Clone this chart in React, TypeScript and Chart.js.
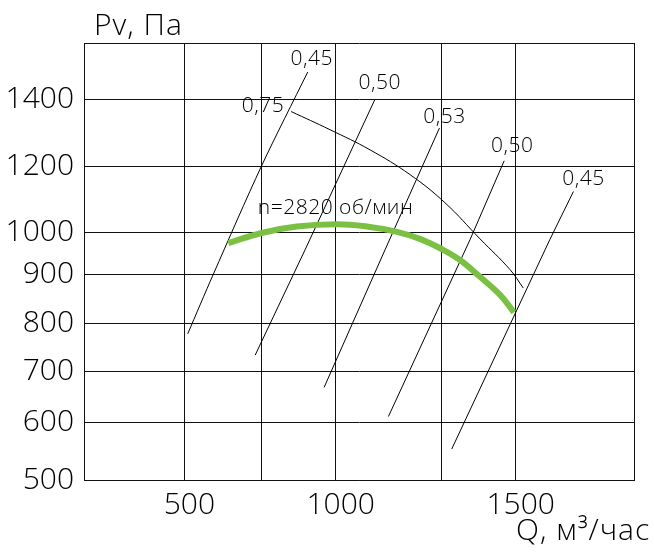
import React, { useEffect, useRef } from 'react';
import { Chart, LinearScale, registerables } from 'chart.js';

// ---------------- data ----------------
// grid lines (axis borders included) and labelled ticks
const X_GRID = [250, 500, 750, 1000, 1250, 1500, 1750];
const X_LABELED = [500, 1000, 1500];
const Y_GRID = [500, 600, 700, 800, 900, 1000, 1200, 1400, 1600];
const Y_LABELED = [500, 600, 700, 800, 900, 1000, 1200, 1400];

// calibration of the non-uniform (hand drawn) axes: value -> fraction of axis length
const X_CAL_VALUES = [250, 500, 750, 1000, 1250, 1500, 1750];
const X_CAL_FRACTIONS = [0, 0.1824, 0.3224, 0.4576, 0.6509, 0.7849, 1];
const Y_CAL_VALUES = [500, 600, 700, 800, 900, 1000, 1200, 1400, 1600];
const Y_CAL_FRACTIONS = [0, 0.1312, 0.248, 0.3588, 0.4706, 0.5672, 0.7183, 0.8697, 1];

// fan curve, n = 2820 rpm
const FAN_Q = [643, 751, 869, 1002, 1069, 1144, 1198, 1249, 1311, 1379, 1447, 1494];
const FAN_P = [974, 998, 1017, 1024, 1018, 1001, 984, 960, 934, 895, 858, 822];
const FAN_LABEL = 'n=2820 об/мин';

// efficiency (system) lines
const ETA1_Q = [906, 751, 594, 511];
const ETA1_P = [1498, 1201, 900, 778];
const ETA2_Q = [1092, 897, 730];
const ETA2_P = [1401, 958, 734];
const ETA3_Q = [1244, 1116, 961];
const ETA3_P = [1315, 958, 669];
const ETA4_Q = [1461, 1345, 1124];
const ETA4_P = [1216, 982, 612];
const ETA5_Q = [1622, 1572, 1283];
const ETA5_P = [1123, 982, 554];
const ETA_LABELS = ['0,45', '0,50', '0,53', '0,50', '0,45'];

// max-efficiency boundary
const ETA_MAX_Q = [850, 981, 1081, 1175, 1260, 1379, 1481, 1516];
const ETA_MAX_P = [1365, 1310, 1249, 1174, 1089, 984, 911, 872];
const ETA_MAX_LABEL = '0,75';

const Y_TITLE = 'Pv, Па';
const X_TITLE = 'Q, м³/час';

// ---------------- scale ----------------
const CALIBRATIONS: Record<string, { values: number[]; fractions: number[] }> = {
  x: { values: X_CAL_VALUES, fractions: X_CAL_FRACTIONS },
  y: { values: Y_CAL_VALUES, fractions: Y_CAL_FRACTIONS },
};

function interp(v: number, xs: number[], ys: number[]): number {
  const n = xs.length;
  let i = 0;
  if (v >= xs[n - 1]) i = n - 2;
  else if (v > xs[0]) {
    while (i < n - 2 && v > xs[i + 1]) i++;
  }
  const t = (v - xs[i]) / (xs[i + 1] - xs[i]);
  return ys[i] + t * (ys[i + 1] - ys[i]);
}

class CalibratedScale extends LinearScale {
  static id = 'calibrated';
  static defaults = {};
  getPixelForValue(value: any) {
    if (value === null || value === undefined || Number.isNaN(value)) return NaN;
    const cal = CALIBRATIONS[(this as any).id];
    return (this as any).getPixelForDecimal(interp(value, cal.values, cal.fractions));
  }
  getValueForPixel(pixel: number) {
    const cal = CALIBRATIONS[(this as any).id];
    return interp((this as any).getDecimalForPixel(pixel), cal.fractions, cal.values);
  }
}

Chart.register(...registerables, CalibratedScale as any);

const pts = (qs: number[], ps: number[]) => qs.map((q, i) => ({ x: q, y: ps[i] }));

const FONT = "'Open Sans', 'Noto Sans', sans-serif";
const WEIGHT = '300';

const textPlugin = {
  id: 'chartTexts',
  afterDatasetsDraw(chart: any) {
    const { ctx, chartArea } = chart;
    const xs = chart.scales.x;
    const ys = chart.scales.y;
    ctx.save();
    ctx.fillStyle = '#000';
    ctx.font = `${WEIGHT} 21px ${FONT}`;
    ctx.letterSpacing = '0.5px';
    ctx.textAlign = 'center';
    ctx.textBaseline = 'middle';
    const lines = [
      [ETA1_Q, ETA1_P, 4, -13],
      [ETA2_Q, ETA2_P, 5, -17],
      [ETA3_Q, ETA3_P, 5, -11.5],
      [ETA4_Q, ETA4_P, 8, -14.5],
      [ETA5_Q, ETA5_P, 10, -12.5],
    ] as any[];
    lines.forEach(([q, p, dx, dy], i) => {
      ctx.fillText(ETA_LABELS[i], xs.getPixelForValue(q[0]) + dx, ys.getPixelForValue(p[0]) + dy);
    });
    ctx.fillText(ETA_MAX_LABEL, xs.getPixelForValue(ETA_MAX_Q[0]) - 28, ys.getPixelForValue(ETA_MAX_P[0]) - 6);
    ctx.fillText(FAN_LABEL, xs.getPixelForValue(FAN_Q[3]) - 1, ys.getPixelForValue(FAN_P[3]) - 16);

    ctx.font = `${WEIGHT} 30px ${FONT}`;
    ctx.letterSpacing = '1px';
    ctx.textAlign = 'left';
    ctx.textBaseline = 'alphabetic';
    ctx.fillText(Y_TITLE, chartArea.left + 10, chartArea.top - 8.5);
    ctx.fillText(X_TITLE, chartArea.right - 118, chartArea.bottom + 60);
    ctx.restore();
  },
};

export default function App() {
  const ref = useRef<HTMLCanvasElement | null>(null);
  useEffect(() => {
    if (!ref.current) return;
    const thin = (qs: number[], ps: number[], tension: number) => ({
      data: pts(qs, ps),
      borderColor: '#000',
      borderWidth: 1,
      pointRadius: 0,
      tension,
      fill: false,
      order: 2,
    });
    const chart = new Chart(ref.current, {
      type: 'line',
      data: {
        datasets: [
          {
            data: pts(FAN_Q, FAN_P),
            borderColor: '#79c043',
            borderWidth: 6,
            pointRadius: 0,
            tension: 0.4,
            fill: false,
            order: 1,
          } as any,
          thin(ETA1_Q, ETA1_P, 0.3),
          thin(ETA2_Q, ETA2_P, 0),
          thin(ETA3_Q, ETA3_P, 0),
          thin(ETA4_Q, ETA4_P, 0),
          thin(ETA5_Q, ETA5_P, 0),
          thin(ETA_MAX_Q, ETA_MAX_P, 0.4),
        ],
      },
      options: {
        animation: false,
        responsive: false,
        devicePixelRatio: 1,
        layout: { padding: { left: 0, right: 20, top: 43, bottom: 0 } },
        plugins: { legend: { display: false }, tooltip: { enabled: false }, title: { display: false } },
        font: { family: FONT },
        scales: {
          x: {
            type: 'calibrated' as any,
            min: 250,
            max: 1750,
            afterBuildTicks: (axis: any) => {
              axis.ticks = X_GRID.map((v) => ({ value: v }));
            },
            afterFit: (axis: any) => {
              axis.height = 72;
            },
            grid: { color: '#111', lineWidth: 1, drawTicks: false },
            border: { color: '#111', width: 1 },
            ticks: {
              autoSkip: false,
              maxRotation: 0,
              padding: 7,
              labelOffset: 5,
              color: '#000',
              font: { family: FONT, size: 30, weight: WEIGHT },
              callback: (v: any) => (X_LABELED.includes(Number(v)) ? String(v) : ''),
            },
          } as any,
          y: {
            type: 'calibrated' as any,
            min: 500,
            max: 1600,
            afterBuildTicks: (axis: any) => {
              axis.ticks = Y_GRID.map((v) => ({ value: v }));
            },
            afterFit: (axis: any) => {
              axis.width = 84;
            },
            grid: { color: '#111', lineWidth: 1, drawTicks: false },
            border: { color: '#111', width: 1 },
            ticks: {
              autoSkip: false,
              padding: 10,
              color: '#000',
              font: { family: FONT, size: 30, weight: WEIGHT },
              callback: (v: any) => (Y_LABELED.includes(Number(v)) ? String(v) : ''),
            },
          } as any,
        },
      } as any,
      plugins: [textPlugin],
    });
    return () => chart.destroy();
  }, []);
  return (
    <div style={{ position: 'fixed', left: 0, top: 0, width: 654, height: 552, background: '#fff' }}>
      <canvas ref={ref} width={654} height={552} style={{ display: 'block' }} />
    </div>
  );
}
